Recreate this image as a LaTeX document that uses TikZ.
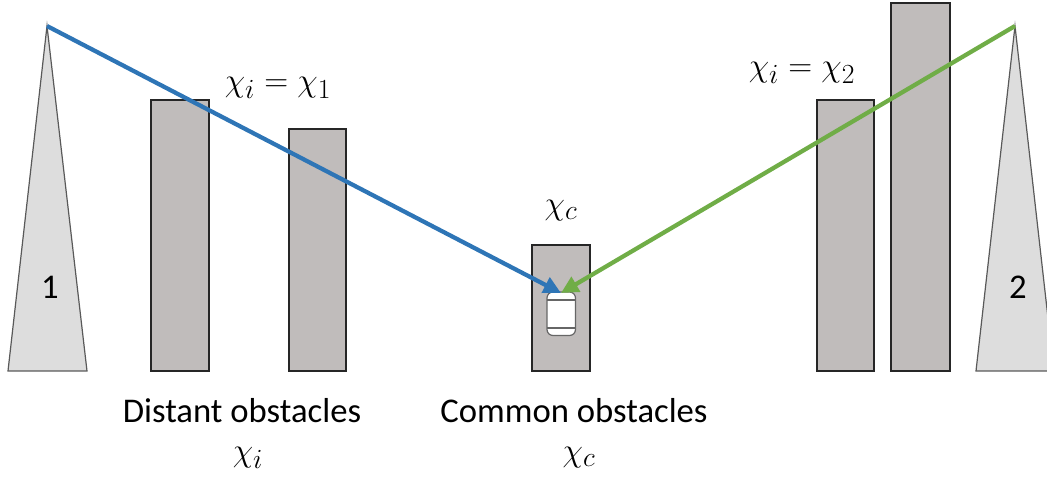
\documentclass[tikz,border=0pt]{standalone}
\usepackage{fontspec}
\setmainfont{Carlito}
\usetikzlibrary{arrows.meta}
\definecolor{obstaclegray}{RGB}{192,188,187}
\definecolor{conegray}{RGB}{221,221,221}
\definecolor{rayblue}{RGB}{46,117,182}
\definecolor{raygreen}{RGB}{112,173,71}
\tikzset{every picture/.style={line width=0.75pt}}
\tikzset{
	obstacle/.style={draw=black!85,fill=obstaclegray,line width=1.5pt},
	cone/.style={draw=black!65,fill=conegray,line width=0.9pt},
	ray/.style={line width=3.2pt,-{Triangle[length=13pt,width=12.5pt]}},
	caption/.style={font=\fontsize{26}{30}\selectfont},
	symbol/.style={font=\fontsize{27.5}{32}\selectfont}
}

\begin{document}
\begin{tikzpicture}[x=0.75pt,y=0.75pt,yscale=-1,xscale=1]
	\useasboundingbox (0,0) rectangle (1047,477);
	\clip (0,0) rectangle (1047,477);

	%Cones
	\coordinate (apexa) at (47,26);
	\coordinate (apexb) at (1015,26);
	\draw [cone] (apexa) -- (8,371) -- (87,371) -- cycle ;
	\draw [cone] (apexb) -- (976,371) -- (1054,371) -- cycle ;

	%Obstacles
	\draw [obstacle] (151,100) rectangle (209,371) ;
	\draw [obstacle] (289,129) rectangle (346,371) ;
	\draw [obstacle] (532,245) rectangle (590,371) ;
	\draw [obstacle] (817,100) rectangle (874,371) ;
	\draw [obstacle] (891,3) rectangle (950,371) ;

	%Car
	\draw [draw=black!60,fill=white,line width=0.9pt,rounded corners=4.5pt] (547,292) rectangle (575.5,335.5) ;
	\draw [draw=black!60,line width=0.9pt] (547,300) -- (575.5,300) ;
	\draw [draw=black!60,line width=0.9pt] (547,328) -- (575.5,328) ;
	\coordinate (car) at (561,293);

	%Rays
	\draw [ray,rayblue] (apexa) -- (car) ;
	\draw [ray,raygreen] (apexb) -- (car) ;

	% Text Node
	\node [caption] (numa) at (50,287) {1};
	% Text Node
	\node [caption] (numb) at (1018,287) {2};
	% Text Node
	\node [symbol] (labela) at (278,88) {$\chi_{i}=\chi_{1}$};
	% Text Node
	\node [symbol] (labelb) at (802,73) {$\chi_{i}=\chi_{2}$};
	% Text Node
	\node [symbol] (labelc) at (561,211) {$\chi_{c}$};
	% Text Node
	\node [caption] (distant) at (242,411) {Distant obstacles};
	% Text Node
	\node [caption] (common) at (574,411) {Common obstacles};
	% Text Node
	\node [symbol] (chidistant) at (248,458) {$\chi_{i}$};
	% Text Node
	\node [symbol] (chicommon) at (579,458) {$\chi_{c}$};
\end{tikzpicture}
\end{document}
